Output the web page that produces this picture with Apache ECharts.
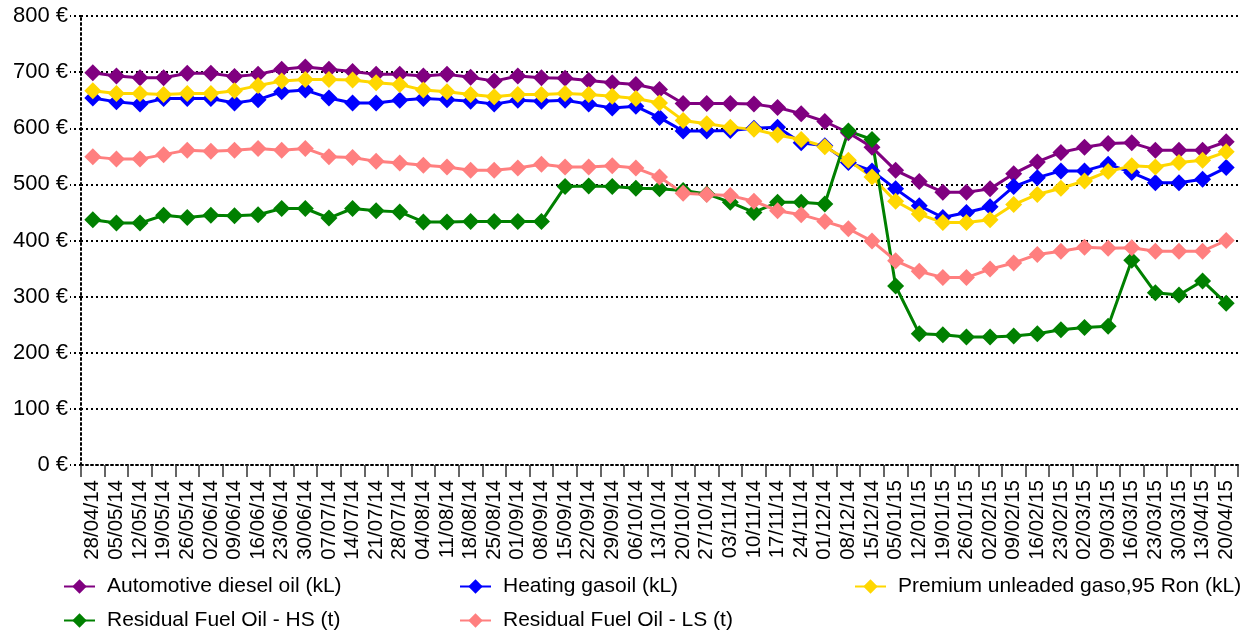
<!DOCTYPE html>
<html>
<head>
<meta charset="utf-8">
<script src="https://cdn.jsdelivr.net/npm/echarts@6/dist/echarts.min.js"></script>
<style>
html,body{margin:0;padding:0;background:#fff;}
#chart{width:1255px;height:634px;}
</style>
</head>
<body>
<div id="chart"></div>
<script>
const categories = ["28/04/14","05/05/14","12/05/14","19/05/14","26/05/14","02/06/14","09/06/14","16/06/14","23/06/14","30/06/14","07/07/14","14/07/14","21/07/14","28/07/14","04/08/14","11/08/14","18/08/14","25/08/14","01/09/14","08/09/14","15/09/14","22/09/14","29/09/14","06/10/14","13/10/14","20/10/14","27/10/14","03/11/14","10/11/14","17/11/14","24/11/14","01/12/14","08/12/14","15/12/14","05/01/15","12/01/15","19/01/15","26/01/15","02/02/15","09/02/15","16/02/15","23/02/15","02/03/15","09/03/15","16/03/15","23/03/15","30/03/15","13/04/15","20/04/15"];

const dieselName = "Automotive diesel oil (kL)";
const dieselValues = [699,693,690,690,698,698,692,696,705,709,705,701,696,696,693,696,691,684,693,690,689,685,681,678,669,644,644,644,643,637,626,612,592,566,525,505,486,486,492,519,540,557,566,573,574,561,561,561,576];

const heatingName = "Heating gasoil (kL)";
const heatingValues = [654,647,643,653,653,653,645,651,665,668,654,645,645,650,653,651,648,643,650,648,650,643,636,639,619,595,595,596,600,602,574,569,539,524,492,462,441,450,460,496,512,524,524,536,521,503,503,509,530];

const premiumName = "Premium unleaded gaso,95 Ron (kL)";
const premiumValues = [667,662,662,660,662,662,667,676,684,687,687,686,681,678,668,665,660,656,660,660,662,660,657,653,645,614,608,602,598,588,580,567,543,513,470,447,432,432,437,464,482,493,506,523,533,531,539,543,558];

const hsName = "Residual Fuel Oil - HS (t)";
const hsValues = [437,431,431,445,441,445,444,446,457,457,440,457,453,451,433,433,434,434,434,434,496,497,496,493,492,489,483,468,450,468,468,465,595,580,319,234,232,228,228,230,234,241,245,247,365,307,303,328,288];

const lsName = "Residual Fuel Oil - LS (t)";
const lsValues = [549,545,545,553,561,559,561,564,561,564,549,548,541,538,534,531,525,525,529,536,531,531,533,529,513,484,482,480,470,453,446,434,421,399,364,345,334,334,349,360,375,381,388,386,387,381,381,381,400];

const yTicks = {min: 0, max: 800, interval: 100};

const FONT = "Liberation Sans, Arial, sans-serif";
const dots = [2, 3];

function mkSeries(name, data, color) {
  return {
    name: name, type: 'line', data: data,
    symbol: 'diamond', symbolSize: 17,
    itemStyle: {color: color},
    lineStyle: {color: color, width: 3},
    animation: false
  };
}

function mkLegend(name, left, top) {
  return {
    data: [name], left: left, top: top,
    itemWidth: 31, itemHeight: 18, padding: 0,
    textStyle: {fontFamily: FONT, fontSize: 21, color: '#000', padding: [0,0,0,7]}
  };
}

const chart = echarts.init(document.getElementById('chart'), null, {renderer: 'canvas'});
chart.setOption({
  backgroundColor: '#fff',
  animation: false,
  grid: {left: 81, right: 17, top: 16, bottom: 169, containLabel: false},
  legend: [
    mkLegend(dieselName, 63, 576),
    mkLegend(heatingName, 459, 576),
    mkLegend(premiumName, 854, 576),
    mkLegend(hsName, 63, 610),
    mkLegend(lsName, 459, 610)
  ],
  xAxis: {
    type: 'category', data: categories, boundaryGap: true,
    axisLine: {show: true, lineStyle: {color: '#000', width: 2, type: dots}},
    axisTick: {show: true, interval: 0, length: 12, lineStyle: {color: '#333', width: 1.5}},
    axisLabel: {interval: 0, rotate: 90, fontFamily: FONT, fontSize: 20.5, color: '#000', margin: 15}
  },
  yAxis: {
    type: 'value', min: yTicks.min, max: yTicks.max, interval: yTicks.interval,
    axisLine: {show: true, lineStyle: {color: '#000', width: 2, type: dots}},
    axisTick: {show: true, length: 11, lineStyle: {color: '#000', width: 2, type: dots}},
    splitLine: {show: true, lineStyle: {color: '#000', width: 2, type: dots}},
    axisLabel: {formatter: '{value} €', fontFamily: FONT, fontSize: 22, color: '#000', margin: 13}
  },
  series: [
    mkSeries(dieselName, dieselValues, '#800080'),
    mkSeries(heatingName, heatingValues, '#0000FF'),
    mkSeries(premiumName, premiumValues, '#FFD700'),
    mkSeries(hsName, hsValues, '#008000'),
    mkSeries(lsName, lsValues, '#FF7F7F')
  ]
});
</script>
</body>
</html>
